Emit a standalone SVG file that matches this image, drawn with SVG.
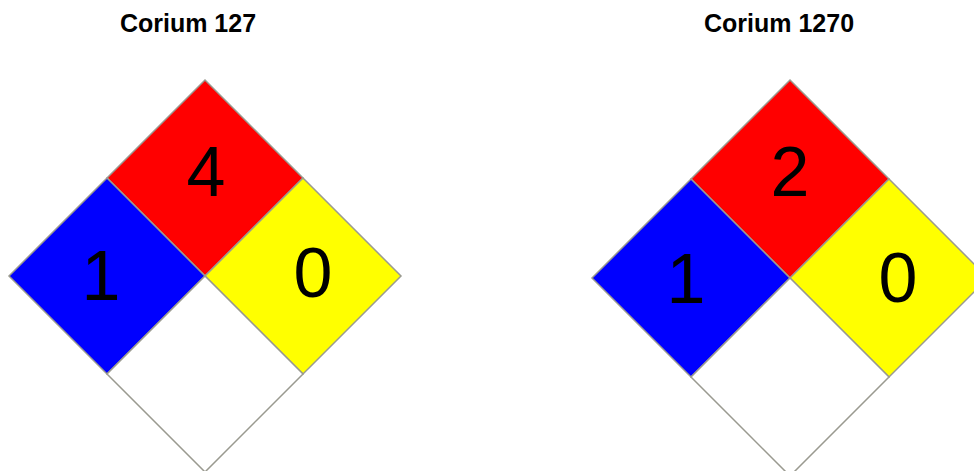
<svg xmlns="http://www.w3.org/2000/svg" width="974" height="471" viewBox="0 0 974 471">
<style>
.title{font-family:"Liberation Sans",Arial,sans-serif;font-weight:bold;font-size:25px;fill:#000;text-anchor:middle}
.num{font-family:"Liberation Sans",Arial,sans-serif;font-size:70px;fill:#000;text-anchor:middle}
.q{stroke:#9a9a90;stroke-width:1.5;stroke-linejoin:miter}
</style>
<rect width="974" height="471" fill="#fff"/>
<g id="title-127"><text class="title" x="188" y="32">Corium 127</text></g>
<g id="title-1270"><text class="title" x="779" y="32">Corium 1270</text></g>
<g id="diamond-127">
<polygon class="q" fill="#ff0000" points="205,80 303,178 205,276 107,178"/>
<polygon class="q" fill="#0000ff" points="107,178 205,276 107,374 9,276"/>
<polygon class="q" fill="#ffff00" points="303,178 401,276 303,374 205,276"/>
<polygon class="q" fill="#ffffff" points="205,276 303,374 205,472 107,374"/>
<text class="num" x="206" y="196">4</text>
<text class="num" x="101" y="300">1</text>
<text class="num" x="313" y="297">0</text>
</g>
<g id="diamond-1270">
<polygon class="q" fill="#ff0000" points="790,80 889,179 790,278 691,179"/>
<polygon class="q" fill="#0000ff" points="691,179 790,278 691,377 592,278"/>
<polygon class="q" fill="#ffff00" points="889,179 988,278 889,377 790,278"/>
<polygon class="q" fill="#ffffff" points="790,278 889,377 790,476 691,377"/>
<text class="num" x="790" y="196">2</text>
<text class="num" x="686" y="303">1</text>
<text class="num" x="898" y="302">0</text>
</g>
<g id="connectors"/>
</svg>
